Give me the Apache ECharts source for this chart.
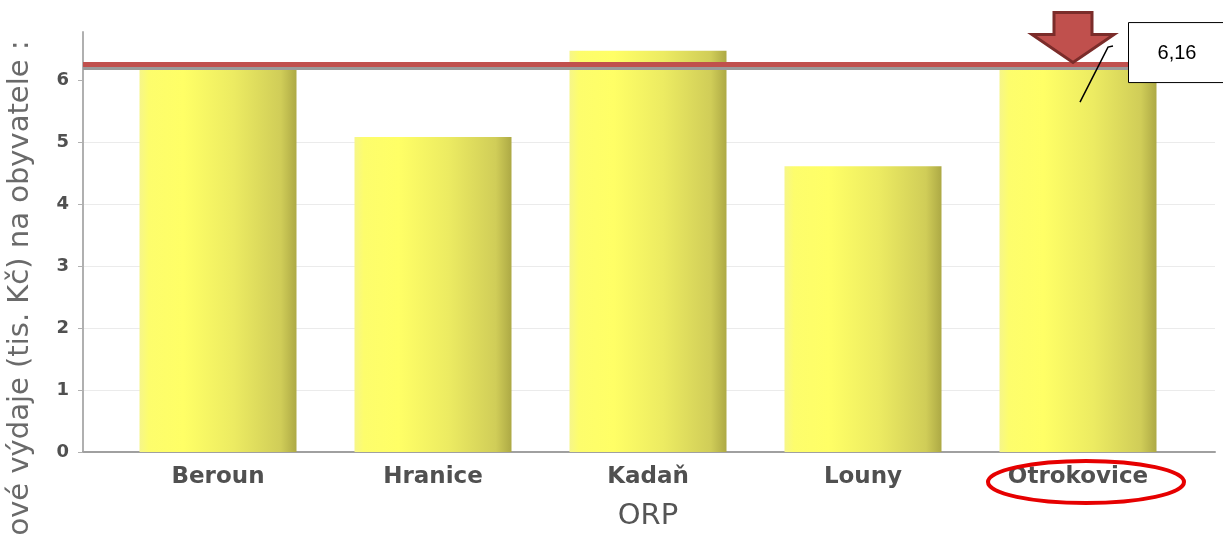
<!DOCTYPE html>
<html>
<head>
<meta charset="utf-8">
<script src="https://cdn.jsdelivr.net/npm/echarts@6/dist/echarts.min.js"></script>
<style>html,body{margin:0;padding:0;background:#fff;}#c{width:1223px;height:554px;}</style>
</head>
<body>
<div id="c"></div>
<script>
const categories = ['Beroun', 'Hranice', 'Kadaň', 'Louny', 'Otrokovice'];
const values = [6.22, 5.08, 6.47, 4.61, 6.16];
const grayLineValue = 6.19;
const redLineValue = 6.25;
const calloutText = '6,16';
const yTicks = [0, 1, 2, 3, 4, 5, 6];
const yName = 'ové výdaje (tis. Kč) na obyvatele :';
const xName = 'ORP';
const highlighted = 'Otrokovice';

const chart = echarts.init(document.getElementById('c'), null, {renderer: 'canvas'});
const yMax = 6.774;
const labelColor = '#505050';

chart.setOption({
  animation: false,
  backgroundColor: '#ffffff',
  grid: [
    {left: 83, right: 8, top: 32, bottom: 102, outerBoundsMode: 'none', containLabel: false},
    {left: 110.5, right: 37.5, top: 32, bottom: 102, outerBoundsMode: 'none', containLabel: false}
  ],
  xAxis: [
    {gridIndex: 0, type: 'value', min: 0, max: 1, axisLabel: {show: false}, axisTick: {show: false}, splitLine: {show: false},
     axisLine: {show: true, lineStyle: {color: '#a0a0a0', width: 2}}},
    {gridIndex: 1, type: 'category', data: categories, axisLine: {show: false}, axisTick: {show: false},
     axisLabel: {color: labelColor, fontFamily: 'DejaVu Sans', fontWeight: 'bold', fontSize: 23, margin: 14},
     name: xName, nameLocation: 'middle', nameGap: 50,
     nameTextStyle: {color: '#555', fontFamily: 'DejaVu Sans', fontSize: 29}}
  ],
  yAxis: [
    {gridIndex: 0, type: 'value', min: 0, max: yMax, interval: 1,
     axisLine: {show: true, lineStyle: {color: '#b0b0b0', width: 2}},
     axisTick: {show: true, length: 5, lineStyle: {color: '#b0b0b0'}, customValues: yTicks},
     axisLabel: {color: labelColor, fontFamily: 'DejaVu Sans', fontWeight: 'bold', fontSize: 18, margin: 14, customValues: yTicks},
     splitLine: {show: true, showMaxLine: false, lineStyle: {color: '#ebebeb', width: 1}},
     name: yName, nameLocation: 'middle', nameGap: 48, nameRotate: 90,
     nameTextStyle: {color: '#6a6a6a', fontFamily: 'DejaVu Sans', fontSize: 29, padding: [0, 92, 0, 0]}},
    {gridIndex: 1, type: 'value', min: 0, max: yMax, show: false}
  ],
  series: [
    {
      type: 'bar', xAxisIndex: 1, yAxisIndex: 1, data: values, barWidth: 157,
      itemStyle: {
        color: new echarts.graphic.LinearGradient(0, 0, 1, 0, [
          {offset: 0, color: '#f6f68a'},
          {offset: 0.06, color: '#fdfd6c'},
          {offset: 0.28, color: '#ffff66'},
          {offset: 0.6, color: '#eceb62'},
          {offset: 0.9, color: '#d0cd58'},
          {offset: 1, color: '#ada945'}
        ]),
        shadowColor: 'rgba(0,0,0,0.18)', shadowBlur: 4, shadowOffsetX: 1
      },
      z: 2
    },
    {
      type: 'line', xAxisIndex: 0, yAxisIndex: 0, data: [], symbol: 'none', z: 5,
      markLine: {
        silent: true, symbol: 'none', label: {show: false},
        data: [
          {yAxis: grayLineValue, lineStyle: {color: '#9a9a9a', width: 4, type: 'solid'}},
          {yAxis: redLineValue, lineStyle: {color: '#c0504d', width: 5, type: 'solid'}}
        ]
      }
    }
  ]
});

// annotations positioned from the data through the axes
const idx = categories.indexOf(highlighted);
const p = chart.convertToPixel({xAxisIndex: 1, yAxisIndex: 1}, [idx, values[idx]]);
const pRed = chart.convertToPixel({xAxisIndex: 1, yAxisIndex: 1}, [idx, redLineValue]);
const p0 = chart.convertToPixel({xAxisIndex: 1, yAxisIndex: 1}, [idx, 0]);
const cx = p[0] - 5, tipY = pRed[1] - 2;
chart.setOption({
  graphic: [
    {type: 'polygon', z: 100,
     shape: {points: [[cx - 19, tipY - 50], [cx + 19, tipY - 50], [cx + 19, tipY - 28], [cx + 41, tipY - 28],
                      [cx, tipY], [cx - 41, tipY - 28], [cx - 19, tipY - 28]]},
     style: {fill: '#c0504d', stroke: '#7b2c2a', lineWidth: 3, lineJoin: 'miter'}},
    {type: 'polyline', z: 100,
     shape: {points: [[p[0] + 2, p[1] + 32], [p[0] + 30, p[1] - 23], [p[0] + 35, p[1] - 24]]},
     style: {stroke: '#000', lineWidth: 1.5, fill: null}},
    {type: 'rect', z: 100,
     shape: {x: p[0] + 50.5, y: p[1] - 47.5, width: 120, height: 60},
     style: {fill: '#fff', stroke: '#000', lineWidth: 1}},
    {type: 'text', z: 101, x: p[0] + 99, y: p[1] - 17,
     style: {text: calloutText, fill: '#000', font: '20px "Liberation Sans"', align: 'center', verticalAlign: 'middle'}},
    {type: 'ellipse', z: 100,
     shape: {cx: p[0] + 8, cy: p0[1] + 30, rx: 98, ry: 21},
     style: {fill: null, stroke: '#e60000', lineWidth: 4}}
  ]
});
</script>
</body>
</html>
